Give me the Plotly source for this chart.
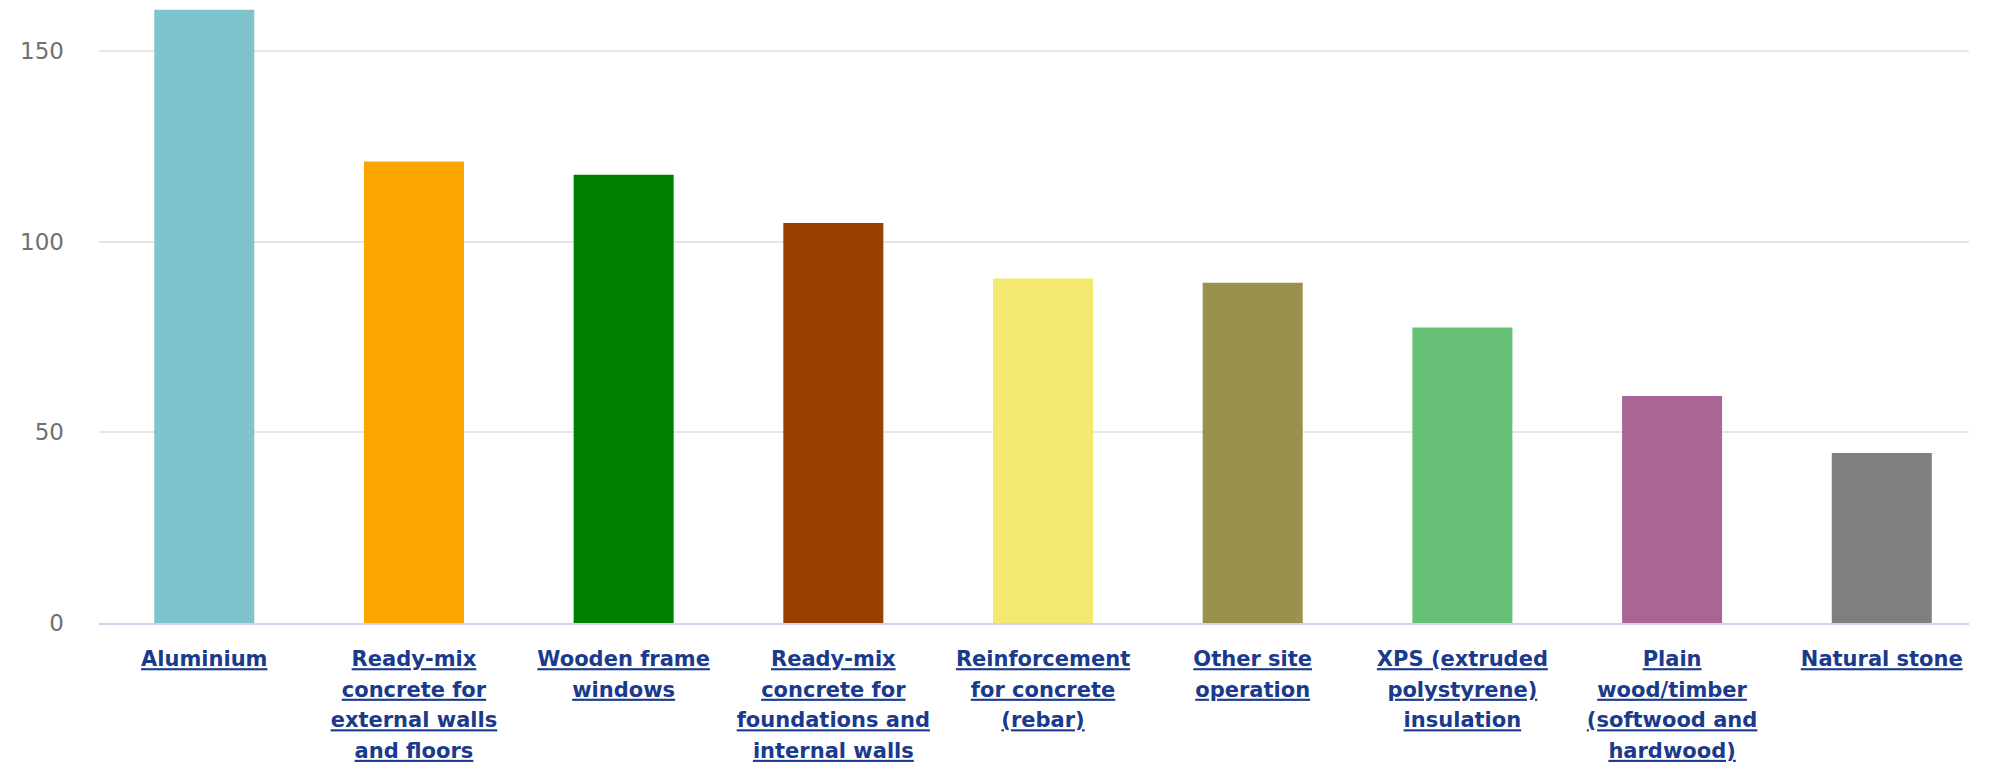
import plotly.graph_objects as go

categories = [
    "Aluminium",
    "Ready-mix concrete for external walls and floors",
    "Wooden frame windows",
    "Ready-mix concrete for foundations and internal walls",
    "Reinforcement for concrete (rebar)",
    "Other site operation",
    "XPS (extruded polystyrene) insulation",
    "Plain wood/timber (softwood and hardwood)",
    "Natural stone",
]
tick_labels = [
    "Aluminium",
    "Ready-mix<br>concrete for<br>external walls<br>and floors",
    "Wooden frame<br>windows",
    "Ready-mix<br>concrete for<br>foundations and<br>internal walls",
    "Reinforcement<br>for concrete<br>(rebar)",
    "Other site<br>operation",
    "XPS (extruded<br>polystyrene)<br>insulation",
    "Plain<br>wood/timber<br>(softwood and<br>hardwood)",
    "Natural stone",
]
values = [160.8, 121.0, 117.5, 104.9, 90.3, 89.2, 77.5, 59.5, 44.6]
colors = ["#7fc4cc", "#ffa500", "#008000", "#993f00", "#f3e971",
          "#9b914f", "#66c177", "#ab6496", "#7f7f7f"]
y_ticks = [0, 50, 100, 150]


def fmt(label):
    lines = label.split("<br>")
    return "<br>".join(
        "<span style='font-size:21px'><b><u>" + ln + "</u></b></span>" for ln in lines
    )


fig = go.Figure(go.Bar(
    x=categories,
    y=values,
    marker=dict(color=colors, line=dict(width=0)),
    width=0.477,
    hoverinfo="x+y",
))

fig.update_layout(
    width=1992, height=767,
    margin=dict(l=91, r=31, t=0, b=152.3),
    paper_bgcolor="white",
    plot_bgcolor="white",
    showlegend=False,
    xaxis=dict(
        type="category",
        range=[-0.502, 8.416],
        tickvals=categories,
        ticktext=[fmt(t) for t in tick_labels],
        tickangle=0,
        tickfont=dict(family="DejaVu Sans", size=23.5, color="#1a3a8c"),
        showline=True, linecolor="#ccd6eb", linewidth=2,
        showgrid=False, ticks="", ticklabelstandoff=13,
    ),
    yaxis=dict(
        range=[0, 161.25],
        tickvals=y_ticks,
        tickfont=dict(family="DejaVu Sans", size=23, color="#707070"),
        showgrid=True, gridcolor="#e6e6e6", gridwidth=2,
        zeroline=False, showline=False, ticks="",
        ticklabelstandoff=34,
    ),
)

fig.write_html("out.html")
